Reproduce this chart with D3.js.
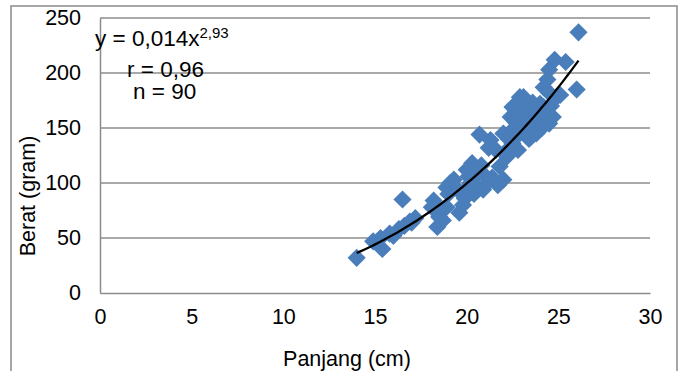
<!DOCTYPE html>
<html>
<head>
<meta charset="utf-8">
<script src="https://cdn.jsdelivr.net/npm/d3@7"></script>
<style>
  body { margin: 0; background: #fff; }
  text { font-family: "Liberation Sans", Arial, sans-serif; fill: #000; }
</style>
</head>
<body>
<div id="chart"></div>
<script>
// Length (cm) and weight (gram) of each fish
var panjang = [14.0, 14.9, 15.3, 15.4, 15.8, 16.0, 16.3, 16.5, 16.6, 16.9,
               17.2, 18.1, 18.2, 18.4, 18.5, 18.7, 18.9, 18.9, 19.1, 19.3,
               19.5, 19.6, 19.8, 19.9, 20.0, 20.0, 20.2, 20.3, 20.4, 20.5,
               20.6, 20.7, 20.8, 20.9, 20.8, 21.1, 21.3, 21.4, 22.3, 21.6,
               21.8, 22.0, 22.1, 22.2, 22.3, 22.4, 22.5, 22.5, 22.6, 22.7,
               22.8, 22.9, 22.9, 23.0, 23.1, 23.2, 23.3, 23.4, 23.5, 23.6,
               23.7, 23.8, 23.8, 23.9, 24.0, 24.1, 24.2, 24.2, 24.3, 24.4,
               24.5, 24.5, 24.5, 24.6, 24.7, 24.8, 24.9, 25.1, 25.4, 26.0,
               26.1, 21.2, 20.1, 19.0, 17.0, 23.0, 22.0, 21.7, 24.0, 23.4];
var berat   = [32, 47, 50, 40, 54, 52, 58, 85, 61, 65,
               68, 78, 84, 60, 69, 66, 78, 96, 100, 103,
               94, 73, 80, 86, 112, 95, 100, 118, 90, 107,
               96, 144, 110, 94, 116, 100, 139, 105, 128, 130,
               115, 103, 128, 124, 140, 160, 136, 169, 150, 155,
               130, 145, 178, 165, 178, 150, 163, 140, 142, 173,
               158, 154, 145, 165, 172, 150, 169, 187, 160, 194,
               154, 182, 203, 170, 160, 212, 178, 180, 210, 185,
               237, 132, 106, 90, 64, 158, 145, 98, 165, 170];

var xTicks = [0, 5, 10, 15, 20, 25, 30];
var yTicks = [0, 50, 100, 150, 200, 250];
var xTitle = "Panjang (cm)";
var yTitle = "Berat (gram)";
var eqBase = "y = 0,014x";
var eqPower = "2,93";
var rText = "r = 0,96";
var nText = "n = 90";

var W = 682, H = 371;
var margin = { top: 18, right: 32, bottom: 78, left: 100 };
var width = W - margin.left - margin.right;
var height = H - margin.top - margin.bottom;
var fs = "21.5px";
var eqFs = "22.5px";

var points = panjang.map(function (p, i) { return { x: p, y: berat[i] }; });

// Power trendline y = a * x^b, least squares on logs (like Excel)
var lx = points.map(function (d) { return Math.log(d.x); });
var ly = points.map(function (d) { return Math.log(d.y); });
var mx = d3.mean(lx), my = d3.mean(ly);
var b = d3.sum(lx, function (v, i) { return (v - mx) * (ly[i] - my); }) /
        d3.sum(lx, function (v) { return (v - mx) * (v - mx); });
var a = Math.exp(my - b * mx);

var svg = d3.select("#chart").append("svg")
    .attr("width", W)
    .attr("height", H);

// Outer chart border
svg.append("rect")
    .attr("x", 11).attr("y", 6)
    .attr("width", 666).attr("height", 380)
    .attr("fill", "none")
    .attr("stroke", "#8a8a8a")
    .attr("stroke-width", 1.5);

var g = svg.append("g")
    .attr("transform", "translate(" + margin.left + "," + margin.top + ")");

var x = d3.scaleLinear().domain([0, 30]).range([0, width]);
var y = d3.scaleLinear().domain([0, 250]).range([height, 0]);

// Gridlines
g.selectAll(".grid")
    .data(yTicks.filter(function (t) { return t > 0; }))
    .enter().append("line")
    .attr("class", "grid")
    .attr("x1", 0).attr("x2", width)
    .attr("y1", function (d) { return y(d); })
    .attr("y2", function (d) { return y(d); })
    .attr("stroke", "#8c8c8c")
    .attr("stroke-width", 1.5);

// Axes
var xAxis = g.append("g")
    .attr("transform", "translate(0," + height + ")")
    .call(d3.axisBottom(x).tickValues(xTicks).tickSize(0).tickPadding(16));
var yAxis = g.append("g")
    .call(d3.axisLeft(y).tickValues(yTicks).tickSize(0).tickPadding(19));

[xAxis, yAxis].forEach(function (ax) {
    ax.select(".domain").attr("stroke", "#8c8c8c").attr("stroke-width", 1.5);
    ax.selectAll("text").attr("font-size", fs)
        .attr("font-family", "Liberation Sans, Arial, sans-serif")
        .attr("fill", "#000");
});

// Markers
g.selectAll(".pt")
    .data(points)
    .enter().append("path")
    .attr("class", "pt")
    .attr("d", d3.symbol().type(d3.symbolSquare).size(165))
    .attr("transform", function (d) {
        return "translate(" + x(d.x) + "," + y(d.y) + ") rotate(45)";
    })
    .attr("fill", "#4a7ebb");

// Trendline
var xr = d3.extent(panjang);
var trend = d3.range(0, 61).map(function (i) {
    var xv = xr[0] + (xr[1] - xr[0]) * i / 60;
    return [xv, a * Math.pow(xv, b)];
});
g.append("path")
    .datum(trend)
    .attr("fill", "none")
    .attr("stroke", "#000")
    .attr("stroke-width", 2.3)
    .attr("d", d3.line()
        .x(function (d) { return x(d[0]); })
        .y(function (d) { return y(d[1]); }));

// Equation box
var eq = svg.append("text")
    .attr("x", 95).attr("y", 46)
    .attr("font-size", eqFs);
eq.append("tspan").text(eqBase);
eq.append("tspan").attr("font-size", "15px").attr("dy", -8).text(eqPower);
svg.append("text").attr("x", 127).attr("y", 77).attr("font-size", eqFs).text(rText);
svg.append("text").attr("x", 133).attr("y", 99).attr("font-size", eqFs).text(nText);

// Axis titles
svg.append("text")
    .attr("x", 347)
    .attr("y", 366)
    .attr("text-anchor", "middle")
    .attr("font-size", fs)
    .text(xTitle);

svg.append("text")
    .attr("transform", "translate(35,196) rotate(-90)")
    .attr("text-anchor", "middle")
    .attr("font-size", fs)
    .text(yTitle);
</script>
</body>
</html>
